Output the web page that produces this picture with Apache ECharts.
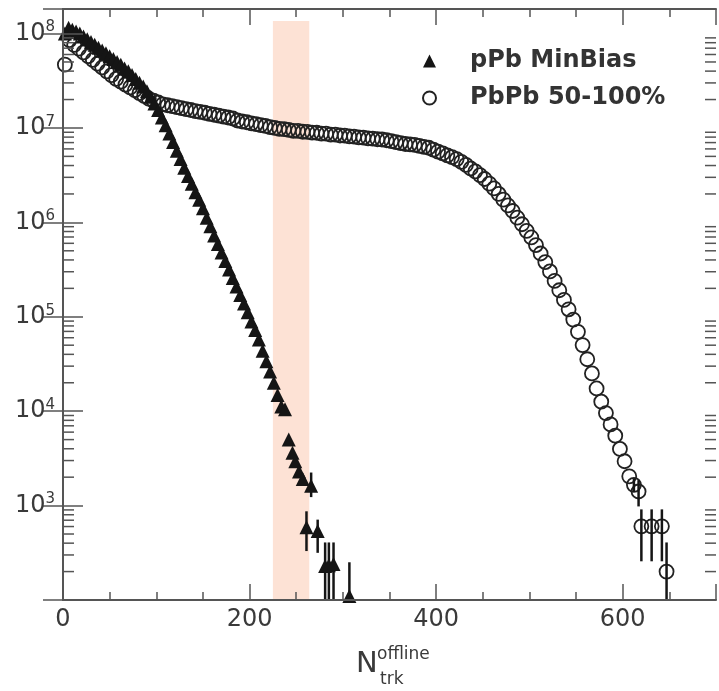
<!DOCTYPE html>
<html>
<head>
<meta charset="utf-8">
<script src="https://cdn.jsdelivr.net/npm/echarts@6/dist/echarts.min.js"></script>
<style>
  html, body { margin: 0; padding: 0; background: #fff; }
  #chart { width: 719px; height: 691px; }
</style>
</head>
<body>
<div id="chart"></div>
<script>
// pPb MinBias  (filled triangles)
var pPbX = [2, 6, 10, 14, 18, 22, 26, 30, 34, 38, 42, 46, 50, 54, 58, 62, 66, 70, 74, 78,
  82, 86, 90, 94, 98, 102, 106, 110, 114, 118, 122, 126, 130, 134, 138, 142, 146, 150, 154, 158,
  162, 166, 170, 174, 178, 182, 186, 190, 194, 198, 202, 206, 210, 214, 218, 222, 226, 230, 234, 238,
  242, 246, 249, 253, 257, 261, 266, 273, 281, 285, 290, 307];
var pPbY = [1.00e8, 1.15e8, 1.10e8, 1.05e8, 1.00e8, 9.33e7, 8.71e7, 8.13e7, 7.59e7, 7.08e7,
  6.61e7, 6.17e7, 5.75e7, 5.37e7, 5.01e7, 4.68e7, 4.27e7, 3.98e7, 3.63e7, 3.31e7,
  3.02e7, 2.75e7, 2.45e7, 2.14e7, 1.82e7, 1.55e7, 1.29e7, 1.07e7, 8.71e6, 7.08e6,
  5.75e6, 4.68e6, 3.80e6, 3.09e6, 2.57e6, 2.09e6, 1.74e6, 1.41e6, 1.12e6, 9.12e5,
  7.24e5, 5.89e5, 4.79e5, 3.89e5, 3.16e5, 2.57e5, 2.09e5, 1.70e5, 1.38e5, 1.12e5,
  8.91e4, 7.24e4, 5.75e4, 4.37e4, 3.39e4, 2.63e4, 2.00e4, 1.48e4, 1.12e4, 1.05e4,
  5010, 3630, 2950, 2290, 1910, 589, 1620, 537, 229, 234, 240, 110];
// [x, y, low, high]
var pPbErr = [[261, 589, 330, 870], [266, 1620, 1230, 2240], [273, 537, 316, 710],
  [281, 229, 1, 407], [285, 234, 1, 407], [290, 240, 1, 407], [307, 110, 1, 251]];

// PbPb 50-100%  (open circles)
var pbpbX = [2, 7, 12, 17, 22, 27, 32, 37, 42, 47, 52, 57, 62, 67, 72, 77, 82, 87, 92, 97,
  102, 107, 112, 117, 122, 127, 132, 137, 142, 147, 152, 157, 162, 167, 172, 177, 182, 187, 192, 197,
  202, 207, 212, 217, 222, 227, 232, 237, 242, 247, 252, 257, 262, 267, 272, 277, 282, 287, 292, 297,
  302, 307, 312, 317, 322, 327, 332, 337, 342, 347, 352, 357, 362, 367, 372, 377, 382, 387, 392, 397,
  402, 407, 412, 417, 422, 427, 432, 437, 442, 447, 452, 457, 462, 467, 472, 477, 482, 487, 492, 497,
  502, 507, 512, 517, 522, 527, 532, 537, 542, 547, 552, 557, 562, 567, 572, 577, 582, 587, 592, 597,
  602, 607, 612, 617, 620, 631, 642, 647];
var pbpbY = [4.68e7, 8.51e7, 7.59e7, 6.92e7, 6.31e7, 5.75e7, 5.25e7, 4.79e7, 4.37e7, 3.98e7,
  3.63e7, 3.31e7, 3.09e7, 2.88e7, 2.69e7, 2.51e7, 2.34e7, 2.19e7, 2.04e7, 1.95e7,
  1.86e7, 1.78e7, 1.74e7, 1.70e7, 1.66e7, 1.62e7, 1.58e7, 1.55e7, 1.51e7, 1.48e7,
  1.45e7, 1.41e7, 1.38e7, 1.35e7, 1.32e7, 1.29e7, 1.26e7, 1.20e7, 1.17e7, 1.15e7,
  1.12e7, 1.10e7, 1.07e7, 1.05e7, 1.02e7, 1.00e7, 9.77e6, 9.70e6, 9.55e6, 9.33e6,
  9.30e6, 9.12e6, 9.10e6, 8.91e6, 8.90e6, 8.71e6, 8.70e6, 8.51e6, 8.50e6, 8.32e6,
  8.30e6, 8.13e6, 8.10e6, 7.94e6, 7.90e6, 7.76e6, 7.70e6, 7.59e6, 7.55e6, 7.41e6,
  7.24e6, 7.08e6, 6.92e6, 6.76e6, 6.70e6, 6.61e6, 6.46e6, 6.31e6, 6.17e6, 5.89e6,
  5.62e6, 5.37e6, 5.13e6, 4.90e6, 4.68e6, 4.37e6, 4.07e6, 3.72e6, 3.47e6, 3.16e6,
  2.88e6, 2.57e6, 2.29e6, 2.00e6, 1.74e6, 1.51e6, 1.32e6, 1.12e6, 9.55e5, 8.13e5,
  6.92e5, 5.75e5, 4.68e5, 3.80e5, 3.02e5, 2.40e5, 1.91e5, 1.51e5, 1.20e5, 9.33e4,
  6.92e4, 5.01e4, 3.55e4, 2.51e4, 1.74e4, 1.26e4, 9550, 7240, 5500, 3980,
  2950, 2040, 1660, 1410, 603, 603, 603, 200];
var pbpbErr = [[612, 1660, 1400, 1950], [617, 1410, 980, 1860], [620, 603, 257, 912],
  [631, 603, 257, 912], [642, 603, 257, 912], [647, 200, 1, 407]];

var seriesNames = ['pPb MinBias', 'PbPb 50-100%'];
var xLabels = [0, 200, 400, 600];
var yLabelExps = [3, 4, 5, 6, 7, 8];
var bandX = [225, 264];
var bandY = [100, 1.36e8];
var yMin = 100, yMax = 1.82e8;

// log minor ticks 2..9 x 10^n
var yMinor = [];
for (var n = 2; n <= 8; n++) {
  for (var k = 2; k <= 9; k++) {
    var v = k * Math.pow(10, n);
    if (v < yMax) yMinor.push([0, v]);
  }
}

var FONT = 'DejaVu Sans';
var AXIS = '#555';
var TXT = '#3a3a3a';
var INK = '#151515';

function pairs(xs, ys) {
  return xs.map(function (x, i) { return [x, ys[i]]; });
}

function yLabel(val) {
  var e = Math.log10(val);
  var n = Math.round(e);
  if (Math.abs(e - n) > 1e-3 || yLabelExps.indexOf(n) < 0) return '';
  return '{b|10}{e|' + n + '}';
}

function errBar(color) {
  return function (params, api) {
    var x = api.value(0);
    var lo = Math.max(api.value(2), yMin);
    var hi = Math.min(api.value(3), yMax);
    var p1 = api.coord([x, hi]);
    var p2 = api.coord([x, lo]);
    return {
      type: 'line',
      shape: { x1: p1[0], y1: p1[1], x2: p2[0], y2: p2[1] },
      style: { stroke: color, lineWidth: 2.5 }
    };
  };
}

function xAxisOf(pos, major) {
  return {
    type: 'value', position: pos, min: 0, max: 700, interval: major ? 200 : 50, z: 4,
    axisLine: { show: major, lineStyle: { color: AXIS, width: 2 } },
    axisTick: { inside: true, length: major ? 16 : 8, lineStyle: { color: AXIS, width: 1.5 } },
    axisLabel: {
      show: major && pos === 'bottom', margin: 8, fontFamily: FONT, fontSize: 24, color: TXT,
      formatter: function (v) { return xLabels.indexOf(v) >= 0 ? String(v) : ''; }
    },
    splitLine: { show: false }
  };
}

function yAxisOf(pos) {
  return {
    type: 'log', logBase: 10, position: pos, min: yMin, max: yMax, splitNumber: 6, z: 4,
    axisLine: { show: true, lineStyle: { color: AXIS, width: 2 } },
    axisTick: { inside: true, length: 20, lineStyle: { color: AXIS, width: 1.5 } },
    axisLabel: {
      show: pos === 'left', margin: 8, formatter: yLabel,
      rich: {
        b: { fontFamily: FONT, fontSize: 24, color: TXT },
        e: { fontFamily: FONT, fontSize: 15, color: TXT, padding: [0, 0, 12, 0] }
      }
    },
    splitLine: { show: false }
  };
}

var chart = echarts.init(document.getElementById('chart'));

var option = {
  animation: false,
  backgroundColor: '#fff',
  grid: { left: 63, right: 3, top: 9, bottom: 91, outerBoundsMode: 'none' },
  legend: {
    orient: 'vertical', left: 417, top: 44, itemWidth: 13, itemHeight: 13, itemGap: 13,
    selectedMode: false,
    data: seriesNames,
    textStyle: { fontFamily: FONT, fontWeight: 'bold', fontSize: 24, color: '#333', padding: [0, 0, 0, 29] }
  },
  xAxis: [xAxisOf('bottom', true), xAxisOf('bottom', false), xAxisOf('top', true), xAxisOf('top', false)],
  yAxis: [yAxisOf('left'), yAxisOf('right')],
  graphic: [
    { type: 'text', left: 356, top: 650, style: { text: 'N', font: '29px "DejaVu Sans"', fill: TXT } },
    { type: 'text', left: 377, top: 646, style: { text: 'offline', font: '17px "DejaVu Sans"', fill: TXT } },
    { type: 'text', left: 380, top: 671, style: { text: 'trk', font: '17px "DejaVu Sans"', fill: TXT } }
  ],
  series: [
    {
      name: seriesNames[1], type: 'scatter', symbol: 'circle', symbolSize: 14, z: 2,
      data: pairs(pbpbX, pbpbY),
      itemStyle: { color: 'rgba(0,0,0,0)', borderColor: '#222', borderWidth: 1.8, opacity: 1 },
      markArea: {
        silent: true,
        itemStyle: { color: '#fde2d5' },
        data: [[{ xAxis: bandX[0], yAxis: bandY[0] }, { xAxis: bandX[1], yAxis: bandY[1] }]]
      }
    },
    {
      name: seriesNames[0], type: 'scatter', symbol: 'triangle', symbolSize: 14, z: 3,
      data: pairs(pPbX, pPbY),
      itemStyle: { color: INK, opacity: 1 }
    },
    {
      type: 'custom', silent: true, z: 3, data: pbpbErr,
      encode: { x: 0, y: 1 }, renderItem: errBar(INK)
    },
    {
      type: 'custom', silent: true, z: 3, data: pPbErr,
      encode: { x: 0, y: 1 }, renderItem: errBar(INK)
    },
    {
      // minor ticks of the log axis, left and right
      type: 'custom', silent: true, z: 4, data: yMinor,
      encode: { x: 0, y: 1 },
      renderItem: function (params, api) {
        var cs = params.coordSys;
        var y = api.coord([0, api.value(1)])[1];
        var st = { stroke: AXIS, lineWidth: 1.5 };
        return {
          type: 'group',
          children: [
            { type: 'line', shape: { x1: cs.x, y1: y, x2: cs.x + 11, y2: y }, style: st },
            { type: 'line', shape: { x1: cs.x + cs.width - 11, y1: y, x2: cs.x + cs.width, y2: y }, style: st }
          ]
        };
      }
    }
  ]
};

chart.setOption(option);
</script>
</body>
</html>
